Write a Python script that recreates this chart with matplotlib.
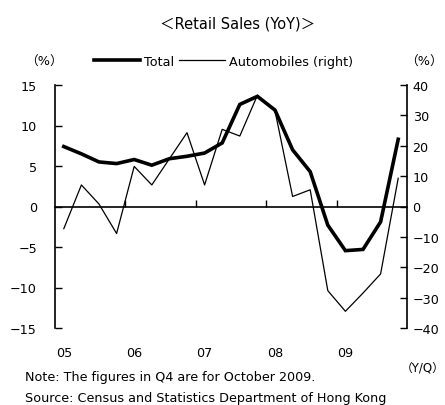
import numpy as np
import matplotlib
matplotlib.use('Agg')
import matplotlib.pyplot as plt
import matplotlib.transforms as mtransforms

plt.rcParams['font.family'] = ['DejaVu Sans', 'Noto Sans CJK JP']
plt.rcParams['font.size'] = 9.2

# quarterly data, 2005Q1 .. 2009Q4 (Q4 2009 = October)
years = ['05', '06', '07', '08', '09']
total = [7.4, 6.5, 5.5, 5.3, 5.8, 5.1, 5.9, 6.2, 6.6, 7.85,
         12.6, 13.6, 11.9, 7.0, 4.3, -2.3, -5.45, -5.3, -1.9, 8.3]
autos = [-7.3, 7.1, 0.8, -8.9, 13.2, 7.1, 15.7, 24.3, 7.1, 25.4,
         23.2, 36.6, 31.5, 3.3, 5.5, -27.7, -34.5, -28.5, -22.2, 9.3]

x = np.arange(len(total))

fig = plt.figure(figsize=(4.45, 4.06), dpi=100)
ax = fig.add_axes([55/445, 1-329/406, 352/445, 243/406])
ax2 = ax.twinx()

l1, = ax.plot(x, total, color='black', lw=2.6, solid_joinstyle='miter', zorder=3)
l2, = ax2.plot(x, autos, color='black', lw=0.9)

ax.set_xlim(-0.5, len(total) - 0.5)
ax.set_ylim(-15, 15)
ax2.set_ylim(-40, 40)
ax.set_yticks(np.arange(-15, 16, 5))
ax2.set_yticks(np.arange(-40, 41, 10))

# x axis sits on zero, ticks at year boundaries
ax.spines['bottom'].set_position(('data', 0))
for a in (ax, ax2):
    a.spines['top'].set_visible(False)
ax2.spines['bottom'].set_visible(False)
ax.set_xticks(np.arange(3.5, len(total) - 1, 4))
ax.set_xticklabels([])
ax.tick_params(axis='x', direction='in', length=5, width=1)
ax.tick_params(axis='y', direction='in', length=5, width=1, pad=13)
ax2.tick_params(axis='y', direction='in', length=5, width=1, pad=4)
for s in ('left', 'bottom'):
    ax.spines[s].set_linewidth(1.2)
ax2.spines['right'].set_linewidth(1.2)
ax2.spines['left'].set_visible(False)
ax.spines['right'].set_visible(False)

trans = mtransforms.blended_transform_factory(ax.transData, ax.transAxes)
for i, yl in enumerate(years):
    ax.text(i * 4, -0.099, yl, transform=trans, ha='center', va='center')

fig.text(0.535, 0.941, '＜Retail Sales (YoY)＞', ha='center', va='center', fontsize=10.5)
fig.text(0.099, 0.847, '（%）', ha='center', va='center')
fig.text(0.953, 0.847, '（%）', ha='center', va='center')
fig.text(0.95, 0.094, '（Y/Q）', ha='center', va='center', fontsize=8.5)
fig.text(0.056, 0.069, 'Note: The figures in Q4 are for October 2009.', ha='left', va='center')
fig.text(0.056, 0.003, 'Source: Census and Statistics Department of Hong Kong', ha='left', va='bottom')

fig.legend([l1, l2], ['Total', 'Automobiles (right)'], ncol=2, frameon=False,
           loc='center', bbox_to_anchor=(0.503, 0.847), handlelength=3.6,
           handletextpad=0.3, columnspacing=0.4, borderpad=0)

fig.savefig('out.png', dpi=100)
